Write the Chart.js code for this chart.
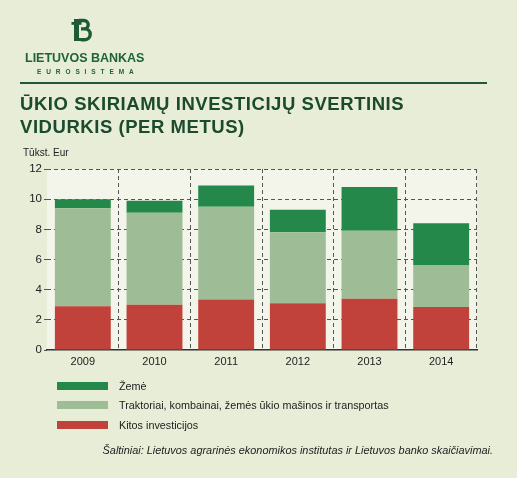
<!DOCTYPE html>
<html>
<head>
<meta charset="utf-8">
<script src="https://cdn.jsdelivr.net/npm/chart.js@4/dist/chart.umd.min.js"></script>
<style>
  html, body { margin: 0; padding: 0; }
  body { width: 517px; height: 478px; background: #e7edd7; font-family: 'Liberation Sans', Arial, sans-serif; overflow: hidden; }
  #wrap { position: relative; width: 517px; height: 478px; }
  #chart { position: absolute; left: 0; top: 0; }
  .abs { position: absolute; white-space: nowrap; }
  #logo { left: 71px; top: 18px; }
  #bank { left: 25px; top: 51px; font-size: 12.5px; font-weight: bold; color: #1e6436; line-height: 14px; }
  #euro { left: 37px; top: 68px; font-size: 6.5px; font-weight: bold; letter-spacing: 4.9px; color: #1e6436; line-height: 8px; }
  #rule { left: 20px; top: 82px; width: 467px; height: 2px; background: #21573a; }
  #title { left: 20px; top: 93px; font-size: 18.5px; font-weight: bold; color: #1b4a2c; line-height: 22.5px; letter-spacing: 0.55px; }
  #unit { left: 23px; top: 147px; font-size: 10px; line-height: 12px; color: #222; }
  #legend { left: 57px; top: 376px; }
  .item { display: flex; align-items: center; height: 19.5px; font-size: 10.8px; color: #222; }
  .swatch { width: 51px; height: 8px; margin-right: 11px; }
  #source { right: 24px; top: 444px; font-size: 10.9px; font-style: italic; color: #222; line-height: 13px; }
</style>
</head>
<body>
<div id="wrap">
  <canvas id="chart" width="517" height="478"></canvas>
  <svg id="logo" class="abs" width="21" height="24" viewBox="0 0 21 24">
    <g fill="#1d5a35">
      <rect x="3" y="1" width="5" height="22"/>
      <rect x="0.5" y="4" width="10" height="2.8"/>
      <rect x="3" y="20" width="9" height="3"/>
    </g>
    <path d="M8 2.5 H13 a4.2 4.2 0 0 1 0 8.4 H10 M10 10.9 H14 a5.2 5.4 0 0 1 0 10.8 H10" fill="none" stroke="#1d5a35" stroke-width="3.4"/>
  </svg>
  <div id="bank" class="abs">LIETUVOS BANKAS</div>
  <div id="euro" class="abs">EUROSISTEMA</div>
  <div id="rule" class="abs"></div>
  <div id="title" class="abs">ŪKIO SKIRIAMŲ INVESTICIJŲ SVERTINIS<br>VIDURKIS (PER METUS)</div>
  <div id="unit" class="abs">Tūkst. Eur</div>
  <div id="legend" class="abs"></div>
  <div id="source" class="abs">Šaltiniai: Lietuvos agrarinės ekonomikos institutas ir Lietuvos banko skaičiavimai.</div>
</div>
<script>
// Duomenys (tūkst. Eur)
const years    = ['2009', '2010', '2011', '2012', '2013', '2014'];
const kitos    = [2.9, 3.0, 3.35, 3.1, 3.4, 2.85];
const technika = [6.5, 6.1, 6.15, 4.7, 4.5, 2.75];
const zeme     = [0.6, 0.8, 1.4, 1.5, 2.9, 2.8];
const yMin = 0, yMax = 12, yStep = 2;

const names = ['Kitos investicijos', 'Traktoriai, kombainai, žemės ūkio mašinos ir transportas', 'Žemė'];
const colors = ['#c1423a', '#9ebd96', '#23884a'];

Chart.defaults.font.family = "'Liberation Sans', Arial, sans-serif";
Chart.defaults.color = '#222';

// Šviesesnis braižymo plotas
const plotBg = {
  id: 'plotBg',
  beforeDraw(chart) {
    const { ctx, chartArea: a } = chart;
    ctx.save();
    ctx.fillStyle = '#f3f5ea';
    ctx.fillRect(a.left, a.top, a.right - a.left, a.bottom - a.top);
    ctx.restore();
  }
};

const gridColor = '#555';

const chart = new Chart(document.getElementById('chart'), {
  type: 'bar',
  data: {
    labels: years,
    datasets: [kitos, technika, zeme].map((d, i) => ({
      label: names[i],
      data: d,
      backgroundColor: colors[i],
      borderWidth: 0,
      barPercentage: 0.78,
      categoryPercentage: 1
    }))
  },
  options: {
    responsive: false,
    animation: false,
    devicePixelRatio: 1,
    layout: { padding: { left: 20, right: 40, top: 169, bottom: 0 } },
    plugins: { legend: { display: false }, tooltip: { enabled: false } },
    scales: {
      x: {
        stacked: true,
        grid: {
          display: true,
          offset: true,
          drawTicks: false,
          lineWidth: 1,
          color: c => c.index === 0 ? 'rgba(0,0,0,0)' : gridColor
        },
        border: { display: true, color: '#333', width: 1.5, dash: [4, 3] },
        ticks: { font: { size: 11 }, padding: 5, color: '#222' },
        afterFit: s => { s.height = 128; }
      },
      y: {
        stacked: true,
        min: yMin,
        max: yMax,
        grid: {
          lineWidth: 1,
          tickLength: 3,
          tickColor: gridColor,
          color: c => c.tick && c.tick.value === 0 ? 'rgba(0,0,0,0)' : gridColor
        },
        border: { display: false, dash: [4, 3] },
        ticks: { stepSize: yStep, font: { size: 11.5 }, padding: 2, color: '#222' },
        afterFit: s => { s.width = 27; }
      }
    }
  },
  plugins: [plotBg]
});

// Legenda (viršutinė serija pirma)
const legend = document.getElementById('legend');
chart.data.datasets.slice().reverse().forEach(ds => {
  const row = document.createElement('div');
  row.className = 'item';
  row.innerHTML = `<span class="swatch" style="background:${ds.backgroundColor}"></span><span>${ds.label}</span>`;
  legend.appendChild(row);
});
</script>
</body>
</html>
